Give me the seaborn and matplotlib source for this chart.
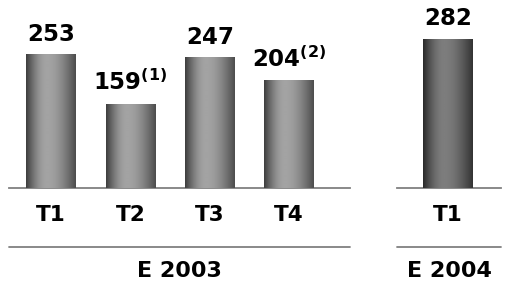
import numpy as np
import pandas as pd
import matplotlib
matplotlib.use('Agg')
import matplotlib.pyplot as plt
import seaborn as sns

# data
quarters_2003 = ['T1', 'T2', 'T3', 'T4']
values_2003 = [253, 159, 247, 204]
notes_2003 = ['', '(1)', '', '(2)']
quarters_2004 = ['T1']
values_2004 = [282]
notes_2004 = ['']
group_labels = ['E 2003', 'E 2004']

sns.set_style('white')
plt.rcParams['font.family'] = ['DejaVu Sans']
plt.rcParams['mathtext.fontset'] = 'dejavusans'
plt.rcParams['text.color'] = 'black'
plt.rcParams['xtick.color'] = 'black'

W, H = 506, 282
fig = plt.figure(figsize=(W / 100, H / 100), dpi=100)

base_px = 188          # baseline row in pixels (from top)
ymax = 355             # value at the top of the axes
ax1 = fig.add_axes([9 / W, (H - base_px) / H, (350 - 9) / W, base_px / H])
ax2 = fig.add_axes([397 / W, (H - base_px) / H, (501 - 397) / W, base_px / H])


def cylinder(ax, patch, edge_l, peak, edge_r):
    """fill a bar patch with a horizontal cylinder-like gradient"""
    x0, y0 = patch.get_x(), patch.get_y()
    w, h = patch.get_width(), patch.get_height()
    t = np.linspace(0, 1, 200)
    pk = 0.42
    left = edge_l + (peak - edge_l) * np.sin(np.clip(t / pk, 0, 1) * np.pi / 2)
    right = edge_r + (peak - edge_r) * np.sin(np.clip((1 - t) / (1 - pk), 0, 1) * np.pi / 2)
    g = np.where(t < pk, left, right)
    img = np.tile(g, (2, 1))
    im = ax.imshow(img, cmap='gray', vmin=0, vmax=1, aspect='auto',
                   extent=[x0, x0 + w, y0, y0 + h], interpolation='bilinear', zorder=3)
    im.set_clip_path(patch)
    patch.set_facecolor('none')
    patch.set_edgecolor('none')


def draw_group(ax, cats, vals, notes, label, xlim, shade):
    df = pd.DataFrame({'quarter': cats, 'value': vals})
    sns.barplot(data=df, x='quarter', y='value', ax=ax, color='#888888',
                width=0.62, saturation=1)
    ax.set_xlim(*xlim)
    ax.set_ylim(0, ymax)
    for p, v, n in zip(ax.patches, vals, notes):
        cylinder(ax, p, *shade)
        txt = r'$\mathbf{%d}$' % v if not n else r'$\mathbf{%d}^{\mathbf{%s}}$' % (v, n)
        ax.annotate(txt, (p.get_x() + p.get_width() / 2, v), xytext=(0, 6),
                    textcoords='offset points', ha='center', va='bottom',
                    fontsize=16.5, fontweight='bold', color='black')
    for s in ['top', 'right', 'left']:
        ax.spines[s].set_visible(False)
    ax.spines['bottom'].set_color('#808080')
    ax.spines['bottom'].set_linewidth(1.3)
    ax.set_yticks([])
    ax.set_xlabel('')
    ax.set_ylabel('')
    ax.tick_params(axis='x', length=0, pad=12, labelsize=15.5, labelcolor='black')
    for lab in ax.get_xticklabels():
        lab.set_fontweight('bold')
    ax.plot([0, 1], [-0.314, -0.314], transform=ax.transAxes, color='#808080',
            lw=1.3, clip_on=False)
    ax.text(0.5, -0.44, label, transform=ax.transAxes, ha='center', va='center',
            fontsize=16, fontweight='bold', color='black')


draw_group(ax1, quarters_2003, values_2003, notes_2003, group_labels[0],
           (-0.528, 3.767), (0.24, 0.64, 0.30))
draw_group(ax2, quarters_2004, values_2004, notes_2004, group_labels[1],
           (-0.64, 0.667), (0.16, 0.49, 0.20))

fig.savefig('out.png', dpi=100)
